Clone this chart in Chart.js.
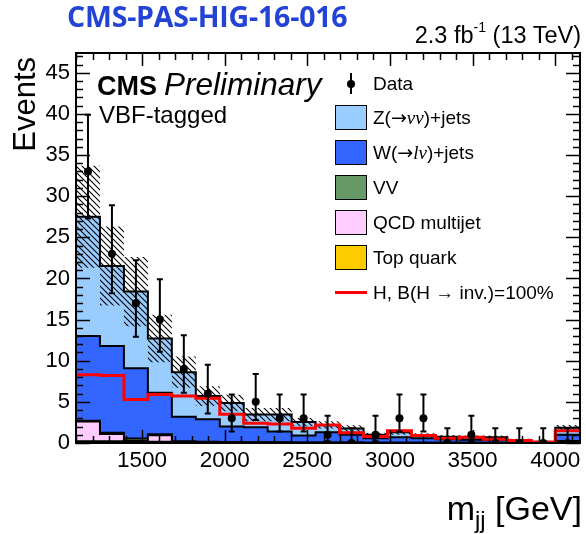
<!DOCTYPE html>
<html>
<head>
<meta charset="utf-8">
<title>VBF-tagged m_jj</title>
<script src="https://cdn.jsdelivr.net/npm/chart.js@4.4.1/dist/chart.umd.min.js"></script>
<style>
  body { margin: 0; background: #fff; }
  #wrap { position: relative; width: 586px; height: 534px; overflow: hidden;
          font-family: 'Liberation Sans', Arial, sans-serif; color: #000; }
  #c { position: absolute; left: 0; top: 0; }
  .t { position: absolute; white-space: nowrap; line-height: 1; }
  sup { font-size: 0.6em; vertical-align: 0.75em; line-height: 0; }
  sub { font-size: 0.7em; vertical-align: -0.35em; line-height: 0; }
  .gr { font-family: 'Liberation Serif', serif; font-style: italic; }
  .ar { font-family: 'DejaVu Sans', sans-serif; }
  #pas { left: 67px; top: 2px; font-family: 'Open Sans', sans-serif; font-weight: 700;
         font-size: 28.5px; color: #2243d6; letter-spacing: -0.2px; }
  #lumi { right: 5px; top: 24px; font-size: 23.5px; }
  #cms { left: 97px; top: 69px; font-size: 27px; }
  #cms i { font-size: 31.5px; margin-left: 7px; }
  #cat { left: 99px; top: 103px; font-size: 24px; }
  #ytitle { left: 9px; top: 257px; width: 200px; text-align: right; font-size: 31px;
            transform: rotate(-90deg); transform-origin: 0 0; }
  #xtitle { right: 4px; top: 491px; font-size: 34px; }
  .row { position: absolute; left: 335px; height: 25px; width: 250px; }
  .sw { position: absolute; left: 0; top: 0; width: 32px; height: 25px; box-sizing: border-box;
        border: 1px solid #000; }
  .lab { position: absolute; left: 38px; top: 0; line-height: 25px; font-size: 19px; white-space: nowrap; }
</style>
</head>
<body>
<div id="wrap">
  <canvas id="c" width="586" height="534"></canvas>
  <div class="t" id="pas">CMS-PAS-HIG-16-016</div>
  <div class="t" id="lumi">2.3 fb<sup>-1</sup> (13 TeV)</div>
  <div class="t" id="cms"><b>CMS</b><i>Preliminary</i></div>
  <div class="t" id="cat">VBF-tagged</div>
  <div class="t" id="ytitle">Events</div>
  <div class="t" id="xtitle">m<sub>jj</sub> [GeV]</div>
  <div id="legend"></div>
</div>
<script>
// bin edges in GeV (20 bins of 145 GeV, last one up to the frame)
const binEdges = [1100, 1245, 1390, 1535, 1680, 1825, 1970, 2115, 2260, 2405, 2550,
                  2695, 2840, 2985, 3130, 3275, 3420, 3565, 3710, 3855, 4000, 4150];

// observed events and the ends of their error bars
const dataCounts = [33, 23, 17, 15, 9, 6, 3, 5, 3, 3, 1, 0, 1, 3, 3, 0, 1, 0, 0, 0, 0];
const dataErrLow = [27.3, 18.2, 12.9, 11.1, 6.1, 3.6, 1.4, 2.8, 1.4, 1.4, 0.2, 0, 0.2, 1.4, 1.4, 0, 0.2, 0, 0, 0, 0];
const dataErrHigh = [39.9, 28.9, 22.2, 19.9, 13.1, 9.5, 5.9, 8.4, 5.9, 5.9, 3.3, 1.8, 3.3, 5.9, 5.9, 1.8, 3.3, 1.8, 1.8, 1.8, 1.8];

// background components (stacked bottom to top)
const topQuark = [0.2, 0.2, 0.15, 0.15, 0.05, 0.05, 0.05, 0.03, 0.03, 0.02, 0.02, 0.02, 0.01, 0.01, 0.01, 0.01, 0.01, 0.01, 0.01, 0, 0.05];
const qcdMultijet = [2.4, 0.9, 0.1, 0.8, 0.05, 0.02, 0.02, 0.02, 0.02, 0.02, 0.02, 0.01, 0.01, 0.01, 0.01, 0.01, 0.01, 0.01, 0, 0, 0.15];
const dibosonVV = [0.1, 0.15, 0.3, 0.1, 0.1, 0.08, 0.05, 0.05, 0.05, 0.03, 0.03, 0.03, 0.02, 0.02, 0.02, 0.02, 0.02, 0.02, 0.01, 0.01, 0.05];
const wJets = [10.3, 10.55, 8.55, 5.05, 3.0, 2.75, 1.88, 1.8, 1.3, 0.83, 1.23, 0.94, 0.53, 0.66, 0.53, 0.41, 0.36, 0.36, 0.18, 0.09, 0.75];
const zJets = [14.5, 9.7, 9.3, 6.6, 5.4, 2.8, 2.85, 1.55, 2.05, 1.65, 0.9, 0.75, 0.43, 0.6, 0.38, 0.32, 0.3, 0.3, 0.17, 0.06, 0.85];
// half width of the hatched uncertainty band
const bkgUnc = [6.2, 4.8, 4.2, 2.9, 1.9, 1.2, 1.0, 0.8, 0.8, 0.5, 0.45, 0.4, 0.25, 0.3, 0.25, 0.2, 0.2, 0.2, 0.15, 0.1, 0.35];

// signal H(inv), BR = 100%
const signalH = [8.3, 8.2, 5.3, 5.9, 5.7, 5.45, 3.5, 2.4, 2.3, 1.8, 2.2, 1.25, 0.8, 1.5, 0.9, 0.57, 0.7, 0.45, 0.3, 0.1, 1.5];

const xTickLabels = [1500, 2000, 2500, 3000, 3500, 4000];
const yTickLabels = [0, 5, 10, 15, 20, 25, 30, 35, 40, 45];

const colZ = '#99ccff', colW = '#3366ff', colVV = '#669966', colQCD = '#ffccff', colTop = '#ffcc00';

const legendItems = [
  ['data', null, 'Data'],
  ['box', colZ, 'Z(<span class="ar">\u2192</span><span class="gr">\u03bd\u03bd</span>)+jets'],
  ['box', colW, 'W(<span class="ar">\u2192</span><span class="gr">l\u03bd</span>)+jets'],
  ['box', colVV, 'VV'],
  ['box', colQCD, 'QCD multijet'],
  ['box', colTop, 'Top quark'],
  ['line', '#ff0000', 'H, B(H \u2192 inv.)=100%']
];

// legend (html)
const leg = document.getElementById('legend');
legendItems.forEach((it, k) => {
  const row = document.createElement('div');
  row.className = 'row';
  row.style.top = (83 + 34.9 * k - 12.5) + 'px';
  let mark = '';
  if (it[0] === 'box') mark = '<div class="sw" style="background:' + it[1] + '"></div>';
  if (it[0] === 'line') mark = '<div style="position:absolute;left:0;top:11px;width:32px;height:3px;background:' + it[1] + '"></div>';
  if (it[0] === 'data') mark = '<div style="position:absolute;left:15px;top:2px;width:2px;height:21px;background:#000"></div>' +
                               '<div style="position:absolute;left:12px;top:9px;width:8px;height:8px;border-radius:4px;background:#000"></div>';
  row.innerHTML = mark + '<div class="lab">' + it[2] + '</div>';
  leg.appendChild(row);
});

function steps(vals) {
  const pts = vals.map((v, i) => ({x: binEdges[i], y: v}));
  pts.push({x: binEdges[vals.length], y: vals[vals.length - 1]});
  return pts;
}
function addArr(a, b) { return a.map((v, i) => v + b[i]); }

const cumTop = topQuark;
const cumQcd = addArr(cumTop, qcdMultijet);
const cumVV = addArr(cumQcd, dibosonVV);
const cumW = addArr(cumVV, wJets);
const cumZ = addArr(cumW, zJets);
const uncUp = cumZ.map((v, i) => v + bkgUnc[i]);
const uncDn = cumZ.map((v, i) => Math.max(0, v - bkgUnc[i]));
const centers = dataCounts.map((n, i) => ({x: (binEdges[i] + binEdges[i + 1]) / 2, y: n}));

function hatch() {
  const s = 6, c = document.createElement('canvas');
  c.width = s; c.height = s;
  const g = c.getContext('2d');
  g.strokeStyle = '#000'; g.lineWidth = 1.1;
  g.beginPath();
  g.moveTo(0, 0); g.lineTo(s, s);
  g.moveTo(-1, s - 1); g.lineTo(1, s + 1);
  g.moveTo(s - 1, -1); g.lineTo(s + 1, 1);
  g.stroke();
  return g.createPattern(c, 'repeat');
}

function histo(vals, color, fill, order) {
  return {data: steps(vals), stepped: true, borderColor: '#000', borderWidth: 2,
          backgroundColor: color, fill: fill, pointRadius: 0, order: order};
}

const errorBars = {
  id: 'errorBars',
  afterDatasetsDraw(chart) {
    const {ctx, scales: {x, y}} = chart;
    ctx.save();
    ctx.strokeStyle = '#000';
    ctx.lineWidth = 2;
    ctx.beginPath();
    centers.forEach((p, i) => {
      const cx = x.getPixelForValue(p.x);
      const y1 = y.getPixelForValue(dataErrLow[i]);
      const y2 = y.getPixelForValue(dataErrHigh[i]);
      ctx.moveTo(cx, y1); ctx.lineTo(cx, y2);
      ctx.moveTo(cx - 3, y2); ctx.lineTo(cx + 3, y2);
      ctx.moveTo(cx - 3, y1); ctx.lineTo(cx + 3, y1);
    });
    ctx.stroke();
    ctx.restore();
  }
};

// ROOT style frame with ticks on all four sides, pointing inwards
const frame = {
  id: 'frame',
  afterDraw(chart) {
    const {ctx, chartArea: a, scales: {x, y}} = chart;
    ctx.save();
    ctx.strokeStyle = '#000';
    ctx.lineWidth = 1.5;
    ctx.beginPath();
    for (let v = 1100; v <= x.max; v += 100) {
      const px = Math.round(x.getPixelForValue(v)) + 0.5;
      const L = v % 500 === 0 ? 13 : 7;
      ctx.moveTo(px, a.bottom); ctx.lineTo(px, a.bottom - L);
      ctx.moveTo(px, a.top); ctx.lineTo(px, a.top + L);
    }
    for (let v = 0; v <= y.max; v += 1) {
      const py = Math.round(y.getPixelForValue(v)) + 0.5;
      const L = v % 5 === 0 ? 14 : 7;
      ctx.moveTo(a.left, py); ctx.lineTo(a.left + L, py);
      ctx.moveTo(a.right, py); ctx.lineTo(a.right - L, py);
    }
    ctx.stroke();
    ctx.lineWidth = 2;
    ctx.strokeRect(a.left, a.top, a.width, a.height);
    ctx.restore();
  }
};

Chart.defaults.font.family = "'Liberation Sans', Arial, sans-serif";
Chart.defaults.color = '#000';

new Chart(document.getElementById('c'), {
  type: 'line',
  data: {
    datasets: [
      {data: centers, showLine: false, pointRadius: 4, pointBackgroundColor: '#000',
       pointBorderWidth: 0, order: 0},                                              // 0 data
      {data: steps(signalH), stepped: true, borderColor: '#ff0000', borderWidth: 3,
       pointRadius: 0, fill: false, order: 1},                                       // 1 signal
      {data: steps(uncUp), stepped: true, borderWidth: 0, borderColor: 'rgba(0,0,0,0)',
       backgroundColor: hatch(), fill: 3, pointRadius: 0, order: 2},                 // 2 band up
      {data: steps(uncDn), stepped: true, borderWidth: 0, borderColor: 'rgba(0,0,0,0)',
       pointRadius: 0, fill: false, order: 2},                                       // 3 band down
      histo(cumTop, colTop, 'origin', 3),                                            // 4
      histo(cumQcd, colQCD, 4, 4),                                                   // 5
      histo(cumVV, colVV, 5, 5),                                                     // 6
      histo(cumW, colW, 6, 6),                                                       // 7
      histo(cumZ, colZ, 7, 7)                                                        // 8
    ]
  },
  options: {
    responsive: false,
    animation: false,
    events: [],
    layout: {padding: {top: 53, right: 6, left: 0, bottom: 0}},
    plugins: {legend: {display: false}, tooltip: {enabled: false}},
    scales: {
      x: {
        type: 'linear', min: 1100, max: 4150,
        grid: {display: false, drawTicks: false}, border: {display: false},
        afterBuildTicks: s => { s.ticks = xTickLabels.map(v => ({value: v})); },
        afterFit: s => { s.height = 91; },
        ticks: {font: {size: 22.5}, color: '#000', padding: 4, maxRotation: 0, autoSkip: false,
                callback: v => String(v)}
      },
      y: {
        type: 'linear', min: 0, max: 47.4,
        grid: {display: false, drawTicks: false}, border: {display: false},
        afterBuildTicks: s => { s.ticks = yTickLabels.map(v => ({value: v})); },
        afterFit: s => { s.width = 76; },
        ticks: {font: {size: 22}, color: '#000', padding: 6, autoSkip: false,
                callback: v => String(v)}
      }
    }
  },
  plugins: [errorBars, frame]
});
</script>
</body>
</html>
